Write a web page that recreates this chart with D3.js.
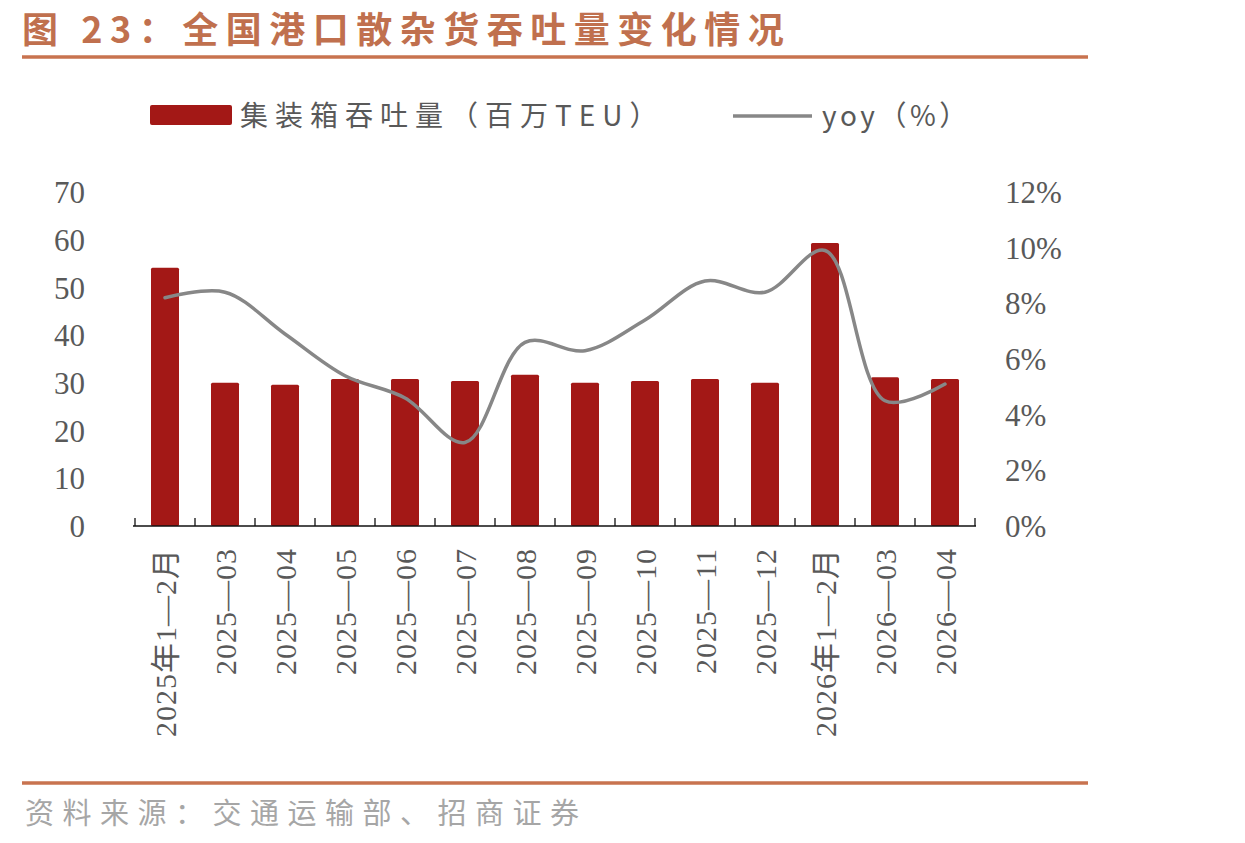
<!DOCTYPE html>
<html>
<head>
<meta charset="utf-8">
<script src="https://d3js.org/d3.v7.min.js"></script>
<style>
  body { margin: 0; background: #fff; }
</style>
</head>
<body>
<script>
    // data
    var categories = ["2025年1—2月", "2025—03", "2025—04", "2025—05", "2025—06", "2025—07", "2025—08",
                      "2025—09", "2025—10", "2025—11", "2025—12", "2026年1—2月", "2026—03", "2026—04"];
    var volume = [54.1, 30.0, 29.6, 30.8, 30.8, 30.4, 31.7, 30.0, 30.4, 30.8, 30.0, 59.3, 31.2, 30.8];
    var yoy = [8.2, 8.4, 6.9, 5.4, 4.6, 3.0, 6.6, 6.3, 7.4, 8.8, 8.4, 9.9, 4.5, 5.1];
    var leftTicks = [0, 10, 20, 30, 40, 50, 60, 70];
    var rightTicks = [0, 2, 4, 6, 8, 10, 12];

    var width = 1245, height = 843;
    var accent = "#c8734f";
    var barColor = "#a31816";
    var lineColor = "#878787";
    var numFont = "'Liberation Serif', 'Noto Sans CJK SC', serif";
    var cjkFont = "'Noto Sans CJK SC', sans-serif";

    var svg = d3.select("body").append("svg")
        .attr("width", width)
        .attr("height", height);

    // title
    svg.append("text")
        .attr("x", 22)
        .attr("y", 43)
        .style("font-family", cjkFont)
        .style("font-weight", "bold")
        .style("font-size", "36px")
        .style("letter-spacing", "7.5px")
        .style("fill", "#c0704e")
        .text("图 23：全国港口散杂货吞吐量变化情况");

    svg.append("line")
        .attr("x1", 22).attr("x2", 1088)
        .attr("y1", 57).attr("y2", 57)
        .style("stroke", accent)
        .style("stroke-width", 3.5);

    // scales
    var x = d3.scaleBand()
        .domain(categories)
        .range([135, 975])
        .paddingInner(0.5333)
        .paddingOuter(0.2667);

    var yL = d3.scaleLinear().domain([0, 70]).range([526, 192]);
    var yR = d3.scaleLinear().domain([0, 12]).range([526, 192]);

    // bars
    svg.selectAll("rect.bar")
        .data(volume)
        .enter().append("rect")
        .attr("class", "bar")
        .attr("x", function (d, i) { return x(categories[i]); })
        .attr("y", function (d) { return yL(d); })
        .attr("width", x.bandwidth())
        .attr("height", function (d) { return yL(0) - yL(d); })
        .attr("rx", 1.5)
        .style("fill", barColor);

    // baseline + tick marks between categories (pointing up)
    svg.append("line")
        .attr("x1", 133).attr("x2", 976)
        .attr("y1", yL(0)).attr("y2", yL(0))
        .style("stroke", "#111")
        .style("stroke-width", 1.6);

    var step = x.step();
    svg.selectAll("line.tick")
        .data(d3.range(categories.length + 1))
        .enter().append("line")
        .attr("class", "tick")
        .attr("x1", function (i) { return x.range()[0] + i * step; })
        .attr("x2", function (i) { return x.range()[0] + i * step; })
        .attr("y1", yL(0))
        .attr("y2", yL(0) - 8)
        .style("stroke", "#111")
        .style("stroke-width", 1.3);

    // yoy line
    var line = d3.line()
        .x(function (d, i) { return x(categories[i]) + x.bandwidth() / 2; })
        .y(function (d) { return yR(d); })
        .curve(d3.curveCatmullRom.alpha(0.5));

    svg.append("path")
        .datum(yoy)
        .attr("d", line)
        .style("fill", "none")
        .style("stroke", lineColor)
        .style("stroke-width", 3.5)
        .style("stroke-linecap", "round");

    // left axis labels
    svg.selectAll("text.yl")
        .data(leftTicks)
        .enter().append("text")
        .attr("class", "yl")
        .attr("x", 85)
        .attr("y", function (d) { return yL(d); })
        .attr("dy", "0.36em")
        .attr("text-anchor", "end")
        .style("font-family", numFont)
        .style("font-size", "31px")
        .style("fill", "#595959")
        .text(function (d) { return d; });

    // right axis labels
    svg.selectAll("text.yr")
        .data(rightTicks)
        .enter().append("text")
        .attr("class", "yr")
        .attr("x", 1005)
        .attr("y", function (d) { return yR(d); })
        .attr("dy", "0.36em")
        .style("font-family", numFont)
        .style("font-size", "31px")
        .style("fill", "#595959")
        .text(function (d) { return d + "%"; });

    // category labels, rotated
    svg.selectAll("text.xl")
        .data(categories)
        .enter().append("text")
        .attr("class", "xl")
        .attr("transform", function (d) {
            return "translate(" + (x(d) + x.bandwidth() / 2) + ",548) rotate(-90)";
        })
        .attr("dy", "0.36em")
        .attr("text-anchor", "end")
        .style("font-family", numFont)
        .style("font-size", "30px")
        .style("letter-spacing", "1px")
        .style("fill", "#595959")
        .text(function (d) { return d; });

    // legend
    svg.append("rect")
        .attr("x", 150).attr("y", 105)
        .attr("width", 82).attr("height", 20)
        .attr("rx", 2)
        .style("fill", barColor);
    svg.append("text")
        .attr("x", 240).attr("y", 126)
        .style("font-family", cjkFont)
        .style("font-size", "28px")
        .style("letter-spacing", "7px")
        .style("fill", "#595959")
        .text("集装箱吞吐量（百万TEU）");

    svg.append("line")
        .attr("x1", 733).attr("x2", 812)
        .attr("y1", 116).attr("y2", 116)
        .style("stroke", lineColor)
        .style("stroke-width", 3.5);
    svg.append("text")
        .attr("x", 822).attr("y", 126)
        .style("font-family", cjkFont)
        .style("font-size", "28px")
        .style("letter-spacing", "3.5px")
        .style("fill", "#595959")
        .text("yoy（%）");

    // footer
    svg.append("line")
        .attr("x1", 22).attr("x2", 1088)
        .attr("y1", 783).attr("y2", 783)
        .style("stroke", accent)
        .style("stroke-width", 3.5);

    svg.append("text")
        .attr("x", 25).attr("y", 824)
        .style("font-family", cjkFont)
        .style("font-size", "29px")
        .style("letter-spacing", "8.5px")
        .style("fill", "#a6a6a6")
        .text("资料来源：交通运输部、招商证券");
</script>
</body>
</html>
